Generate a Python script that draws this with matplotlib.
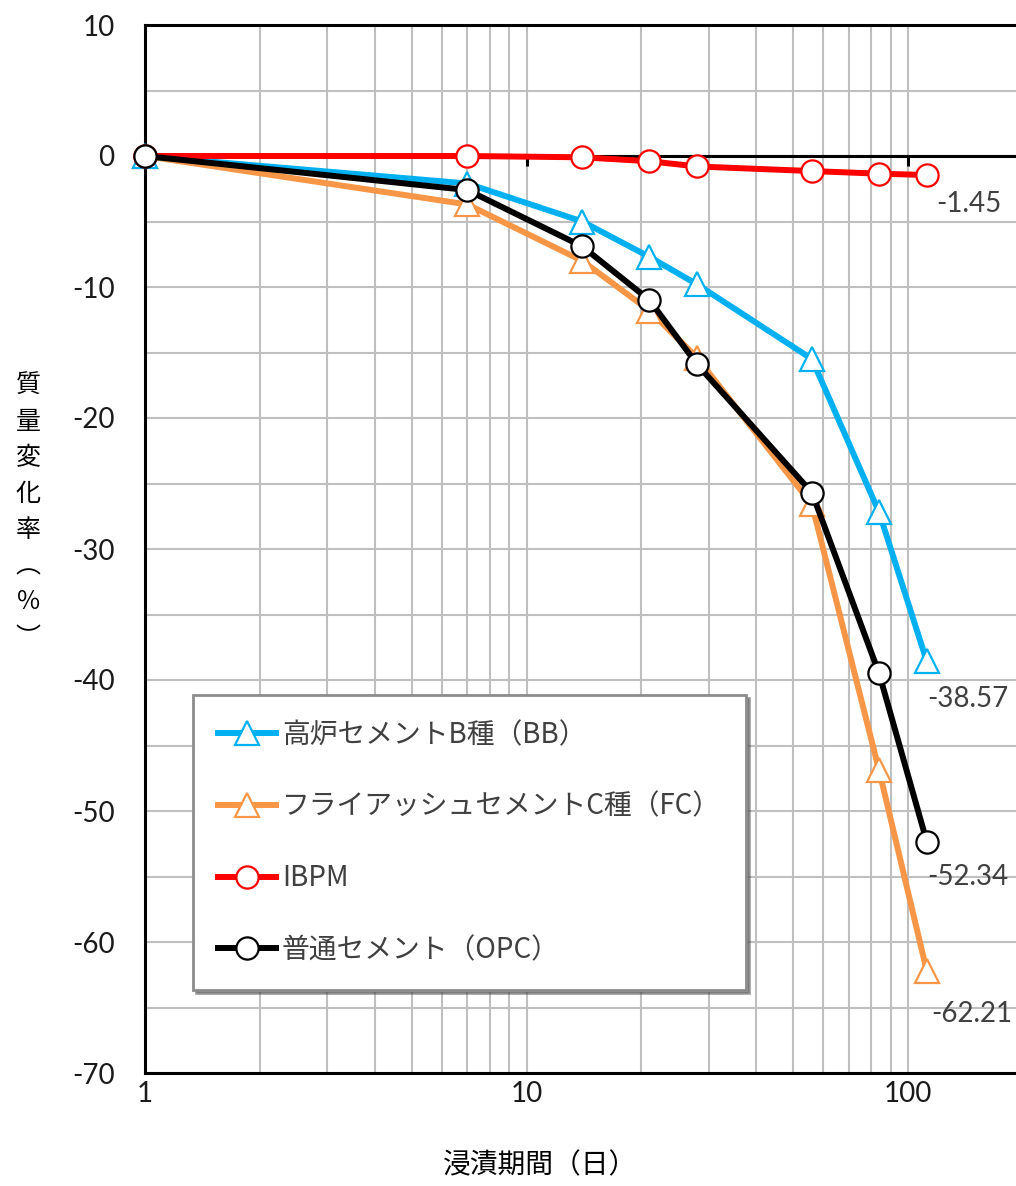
import numpy as np
import matplotlib.pyplot as plt
from matplotlib.ticker import LogLocator, NullFormatter, MultipleLocator

plt.rcParams['font.family'] = ['Lato', 'Noto Sans CJK JP', 'DejaVu Sans']
plt.rcParams['axes.unicode_minus'] = False

# immersion days and mass change (%)
days = [1, 7, 14, 21, 28, 56, 84, 112]
bb = [0, -2.1, -5.0, -7.7, -9.8, -15.5, -27.2, -38.57]
fc = [0, -3.7, -8.0, -11.8, -15.4, -26.6, -46.9, -62.21]
ibpm = [0, 0, -0.1, -0.4, -0.8, -1.15, -1.35, -1.45]
opc = [0, -2.6, -6.9, -11.0, -15.9, -25.7, -39.5, -52.34]

labels = ['高炉セメントB種（BB）', 'フライアッシュセメントC種（FC）', 'IBPM', '普通セメント（OPC）']
colors = ['#00b0f0', '#f79646', '#ff0000', '#000000']
markers = ['^', '^', 'o', 'o']
decades = [1, 10, 100]

W, H = 1016, 1186
fig = plt.figure(figsize=(W / 100, H / 100), dpi=100)
# log axis runs to 1000; the right part falls outside the figure
ax = fig.add_axes([145 / W, (H - 1073) / H, 3 * 381.5 / W, 1048 / H])

ax.set_xscale('log')
ax.set_xlim(1, 1000)
ax.set_ylim(-70, 10)
ax.yaxis.set_major_locator(MultipleLocator(10))
ax.yaxis.set_minor_locator(MultipleLocator(5))
ax.xaxis.set_minor_locator(LogLocator(base=10, subs=np.arange(2, 10)))
ax.xaxis.set_minor_formatter(NullFormatter())
ax.set_xticks(decades)
ax.set_xticklabels([str(d) for d in decades])

ax.grid(which='both', color='#bfbfbf', lw=1.5)
ax.axvline(1000, color='#bfbfbf', lw=1.5, zorder=0)
ax.set_axisbelow(True)
for sp in ax.spines.values():
    sp.set_color('black')
    sp.set_linewidth(2.2)

ax.tick_params(which='both', length=0)
ax.tick_params(axis='y', labelsize=20, pad=22, colors='#1a1a1a')
ax.tick_params(axis='x', labelsize=20, pad=6, colors='#1a1a1a')

# horizontal axis line through zero, with decade ticks hanging below it
ax.axhline(0, color='black', lw=2.2, zorder=1.5)
ax.plot(decades, np.zeros(len(decades)), ls='none', marker=3, ms=7, mew=2.2,
        color='black', zorder=1.5)

series = [bb, fc, ibpm, opc]
handles = []
for vals, lab, c, m in zip(series, labels, colors, markers):
    h, = ax.plot(days, vals, color=c, lw=4.3, marker=m, ms=16 if m == 'o' else 17,
                 mfc='white', mec=c, mew=1.6, label=lab, clip_on=False)
    handles.append(h)

# stacking order: BB under FC, then IBPM, OPC on top
for h, z in zip(handles, [3, 2, 4, 5]):
    h.set_zorder(z)

# final values
offsets = {'bb': (0, -38), 'fc': (4, -43), 'ibpm': (9, -29), 'opc': (0, -35)}
for key, vals in zip(['bb', 'fc', 'ibpm', 'opc'], series):
    dx, dy = offsets[key]
    ax.annotate(f'{vals[-1]:.2f}', (days[-1], vals[-1]), xytext=(dx, dy),
                textcoords='offset pixels', ha='left', va='center',
                fontsize=20, color='#404040')

leg = ax.legend(handles=handles, loc='upper left',
                bbox_to_anchor=(193 / W, 1 - 695 / H), bbox_transform=fig.transFigure,
                borderaxespad=0, labelspacing=1.5, handlelength=2.1,
                handletextpad=0.2, borderpad=0.9, fancybox=False, shadow=True,
                framealpha=1, edgecolor='#8c8c8c',
                prop={'family': ['Noto Sans CJK JP'], 'size': 20})
leg.get_frame().set_linewidth(2)
for t in leg.get_texts():
    t.set_color('#404040')

fig.text(28 / W, 1 - 512 / H, '質\n量\n変\n化\n率\n︵\n％\n︶', ha='center', va='center',
         fontsize=18, linespacing=1.5, family=['Noto Sans CJK JP'])
fig.text(540 / W, 1 - 1165 / H, '浸漬期間（日）', ha='center', va='center',
         fontsize=20, family=['Noto Sans CJK JP'])

fig.savefig('out.png', dpi=100)
